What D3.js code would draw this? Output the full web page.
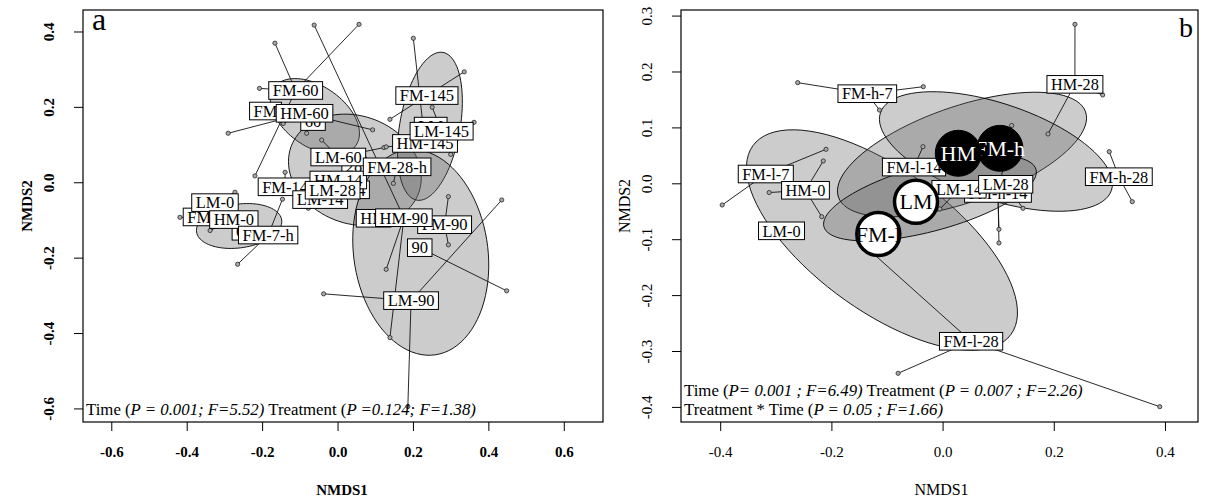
<!DOCTYPE html>
<html>
<head>
<meta charset="utf-8">
<script src="https://cdn.jsdelivr.net/npm/d3@7"></script>
<style>
  body { margin: 0; background: #fff; }
  svg, svg text { font-family: "Liberation Serif", "Tinos", "DejaVu Serif", "Times New Roman", Times, serif; }
  svg { display: block; }
</style>
</head>
<body>
<svg id="chart" width="1205" height="499"></svg>
<script>
// ---------- panel a : NMDS scores ----------
const aXTicks = [-0.6, -0.4, -0.2, 0, 0.2, 0.4, 0.6];
const aYTicks = [-0.6, -0.4, -0.2, 0, 0.2, 0.4];

// group labels, in drawing order (later ones on top)
const aLabels = [
  { id: "FM0", text: "FM", x: -0.367, y: -0.092 },
  { id: "LM-0", text: "LM-0", x: -0.325, y: -0.054 },
  { id: "t0", text: "0", x: -0.258, y: -0.130 },
  { id: "HM-0", text: "HM-0", x: -0.275, y: -0.099 },
  { id: "FM-7-h", text: "FM-7-h", x: -0.184, y: -0.140 },
  { id: "FM-14", text: "FM-14", x: -0.139, y: -0.012 },
  { id: "LM-14", text: "LM-14", x: -0.046, y: -0.046 },
  { id: "t28", text: "28", x: 0.044, y: 0.043 },
  { id: "t14", text: "14", x: 0.052, y: -0.020 },
  { id: "HM-14", text: "HM-14", x: 0.002, y: 0.006 },
  { id: "LM-28", text: "LM-28", x: -0.013, y: -0.021 },
  { id: "LM-60", text: "LM-60", x: 0.002, y: 0.067 },
  { id: "FM-28-h", text: "FM-28-h", x: 0.158, y: 0.041 },
  { id: "FM", text: "FM", x: -0.191, y: 0.189 },
  { id: "t60", text: "60", x: -0.065, y: 0.161 },
  { id: "FM-60", text: "FM-60", x: -0.111, y: 0.2435 },
  { id: "HM-60", text: "HM-60", x: -0.0875, y: 0.183 },
  { id: "FM-145", text: "FM-145", x: 0.237, y: 0.230 },
  { id: "LM", text: "LM", x: 0.247, y: 0.149 },
  { id: "HM-145", text: "HM-145", x: 0.232, y: 0.103 },
  { id: "LM-145", text: "LM-145", x: 0.276, y: 0.1355 },
  { id: "HM", text: "HM", x: 0.0955, y: -0.0955 },
  { id: "FM-90", text: "FM-90", x: 0.284, y: -0.1125 },
  { id: "HM-90", text: "HM-90", x: 0.176, y: -0.094 },
  { id: "t90", text: "90", x: 0.218, y: -0.1735 },
  { id: "LM-90", text: "LM-90", x: 0.195, y: -0.314 }
];

// sample scores, each tied to its group label
const aPoints = [
  { g: "FM-60", x: -0.166, y: 0.369 }, { g: "FM-60", x: 0.057, y: 0.419 },
  { g: "FM-60", x: -0.207, y: 0.249 }, { g: "FM-60", x: -0.219, y: 0.017 },
  { g: "HM-60", x: -0.290, y: 0.130 }, { g: "HM-60", x: 0.093, y: 0.139 },
  { g: "HM-60", x: -0.144, y: 0.156 }, { g: "HM-60", x: -0.082, y: 0.130 },
  { g: "LM-60", x: -0.042, y: 0.112 }, { g: "LM-60", x: 0.123, y: 0.092 },
  { g: "FM-14", x: -0.139, y: 0.0265 },
  { g: "LM-14", x: -0.0775, y: -0.069 },
  { g: "LM-0", x: -0.272, y: -0.0265 },
  { g: "HM-0", x: -0.418, y: -0.093 }, { g: "HM-0", x: -0.338, y: -0.128 },
  { g: "FM-7-h", x: -0.146, y: -0.045 }, { g: "FM-7-h", x: -0.265, y: -0.2175 },
  { g: "FM-28-h", x: 0.148, y: -0.003 },
  { g: "HM-90", x: -0.062, y: 0.417 }, { g: "HM-90", x: 0.139, y: -0.412 },
  { g: "HM-90", x: 0.129, y: -0.231 }, { g: "HM-90", x: 0.056, y: -0.089 },
  { g: "t90", x: 0.4485, y: -0.288 },
  { g: "FM-90", x: 0.294, y: -0.038 }, { g: "FM-90", x: 0.294, y: -0.166 },
  { g: "LM-90", x: -0.037, y: -0.296 }, { g: "LM-90", x: 0.1865, y: -0.595 },
  { g: "LM-90", x: 0.4355, y: -0.047 },
  { g: "HM-145", x: 0.201, y: 0.382 }, { g: "HM-145", x: 0.129, y: 0.094 },
  { g: "FM-145", x: 0.336, y: 0.293 }, { g: "FM-145", x: 0.139, y: 0.167 },
  { g: "LM-145", x: 0.362, y: 0.159 }, { g: "LM-145", x: 0.300, y: 0.074 },
  { g: "LM-145", x: 0.251, y: 0.199 }
];

// confidence ellipses: centre, semi axes, angle (deg) in score units
const aEllipses = [
  { x: -0.261, y: -0.116, a: 0.114, b: 0.058, angle: 8 },
  { x: -0.060, y: 0.1745, a: 0.133, b: 0.080, angle: -35 },
  { x: 0.046, y: 0.033, a: 0.180, b: 0.143, angle: -20 },
  { x: 0.245, y: 0.1485, a: 0.199, b: 0.080, angle: 80 },
  { x: 0.2207, y: -0.186, a: 0.2745, b: 0.178, angle: 98 }
];

// ---------- panel b ----------
const bXTicks = [-0.4, -0.2, 0, 0.2, 0.4];
const bYTicks = [-0.4, -0.3, -0.2, -0.1, 0, 0.1, 0.2, 0.3];

const bLabels = [
  { id: "FM-h-7", text: "FM-h-7", x: -0.1354, y: 0.1603 },
  { id: "FM-l-7", text: "FM-l-7", x: -0.318, y: 0.0166 },
  { id: "HM-0", text: "HM-0", x: -0.2466, y: -0.0125 },
  { id: "LM-0", text: "LM-0", x: -0.2897, y: -0.085 },
  { id: "FM-l-14", text: "FM-l-14", x: -0.0514, y: 0.029 },
  { id: "HM-28", text: "HM-28", x: 0.238, y: 0.177 },
  { id: "FM-h-28", text: "FM-h-28", x: 0.317, y: 0.0118 },
  { id: "FM-h-14", text: "FM-h-14", x: 0.0996, y: -0.0182 },
  { id: "LM-14", text: "LM-14", x: 0.0295, y: -0.0107 },
  { id: "LM-28", text: "LM-28", x: 0.1135, y: -0.0018 },
  { id: "FM-l-28", text: "FM-l-28", x: 0.0513, y: -0.2826 }
];

const bPoints = [
  { g: "FM-h-7", x: -0.2606, y: 0.180 }, { g: "FM-h-7", x: -0.0347, y: 0.1728 },
  { g: "FM-h-7", x: -0.1135, y: 0.131 },
  { g: "FM-l-7", x: -0.2097, y: 0.0608 }, { g: "FM-l-7", x: -0.3964, y: -0.0388 },
  { g: "HM-0", x: -0.2146, y: 0.0399 }, { g: "HM-0", x: -0.3119, y: -0.0165 },
  { g: "HM-0", x: -0.2174, y: -0.0598 },
  { g: "LM-0", x: -0.2835, y: -0.080 },
  { g: "FM-l-14", x: -0.0353, y: 0.0655 },
  { g: "HM-28", x: 0.2381, y: 0.2844 }, { g: "HM-28", x: 0.288, y: 0.158 },
  { g: "HM-28", x: 0.1896, y: 0.0882 },
  { g: "FM-h-28", x: 0.2998, y: 0.0565 }, { g: "FM-h-28", x: 0.3412, y: -0.0329 },
  { g: "LM-28", x: 0.1446, y: -0.0447 },
  { g: "FM-h-14", x: 0.1014, y: -0.0823 }, { g: "FM-h-14", x: 0.1014, y: -0.1068 },
  { g: "FM-h-14", x: 0.1243, y: 0.1034 },
  { g: "FM-l-28", x: -0.080, y: -0.3399 }, { g: "FM-l-28", x: 0.3906, y: -0.3996 },
  { g: "FM-l-28", x: -0.152, y: -0.1014 },
  { g: "LM-14", x: -0.0047, y: -0.046 }
];

const bEllipses = [
  { x: -0.109, y: -0.1014, a: 0.287, b: 0.126, angle: -36 },
  { x: 0.0349, y: 0.0515, a: 0.235, b: 0.086, angle: 18.9 },
  { x: 0.096, y: 0.0569, a: 0.219, b: 0.086, angle: -18.4 },
  { x: -0.0227, y: -0.0265, a: 0.1975, b: 0.059, angle: 15 }
];

// treatment centroids
const bCentroids = [
  { name: "FM-h", x: 0.1032, y: 0.0626 },
  { name: "HM", x: 0.0282, y: 0.0537 },
  { name: "FM-l", x: -0.1156, y: -0.0907 },
  { name: "LM", x: -0.0478, y: -0.0329 }
];
const centroidStyle = {
  "FM-h": { fill: "#000", text: "#fff", stroke: "#000" },
  "HM": { fill: "#000", text: "#fff", stroke: "#000" },
  "FM-l": { fill: "#fff", text: "#000", stroke: "#000" },
  "LM": { fill: "#fff", text: "#000", stroke: "#000" }
};

const serif = '"Liberation Serif", "Tinos", "DejaVu Serif", "Times New Roman", Times, serif';
const svg = d3.select("#chart").attr("font-family", serif);

function ellipsePoints(e) {
  const t = e.angle * Math.PI / 180;
  return d3.range(90).map(i => {
    const p = 2 * Math.PI * i / 90;
    const u = e.a * Math.cos(p), v = e.b * Math.sin(p);
    return [e.x + u * Math.cos(t) - v * Math.sin(t), e.y + u * Math.sin(t) + v * Math.cos(t)];
  });
}

function drawPanel(cfg) {
  const { box, xDomain, yDomain, bold } = cfg;
  const x = d3.scaleLinear().domain(xDomain).range([box.left, box.right]);
  const y = d3.scaleLinear().domain(yDomain).range([box.bottom, box.top]);
  const g = svg.append("g").attr("font-family", serif);
  const weight = bold ? "bold" : "normal";

  // ellipses
  const line = d3.line().x(d => x(d[0])).y(d => y(d[1])).curve(d3.curveLinearClosed);
  g.append("g").selectAll("path")
    .data(cfg.ellipses)
    .join("path")
    .attr("d", d => line(ellipsePoints(d)))
    .attr("fill", "#666")
    .attr("fill-opacity", 0.333)
    .attr("stroke", "#000")
    .attr("stroke-width", 0.9);

  // spider lines from the group label to each sample
  const byId = new Map(cfg.labels.map(d => [d.id, d]));
  g.append("g").selectAll("line")
    .data(cfg.points)
    .join("line")
    .attr("x1", d => x(byId.get(d.g).x))
    .attr("y1", d => y(byId.get(d.g).y))
    .attr("x2", d => x(d.x))
    .attr("y2", d => y(d.y))
    .attr("stroke", "#111")
    .attr("stroke-width", 0.9);

  g.append("g").selectAll("circle")
    .data(cfg.points)
    .join("circle")
    .attr("cx", d => x(d.x))
    .attr("cy", d => y(d.y))
    .attr("r", 2.1)
    .attr("fill", "#aaa")
    .attr("stroke", "#222")
    .attr("stroke-width", 0.8);

  // labels with white boxes
  const lab = g.append("g").selectAll("g")
    .data(cfg.labels)
    .join("g")
    .attr("transform", d => `translate(${x(d.x)},${y(d.y)})`);
  const rects = lab.append("rect");
  const texts = lab.append("text")
    .attr("text-anchor", "middle")
    .attr("y", 5.8)
    .attr("font-size", cfg.labelSize)
    .text(d => d.text);
  texts.each(function (d) { d.w = this.getComputedTextLength(); });
  rects
    .attr("x", d => -d.w / 2 - 4)
    .attr("y", -8.8)
    .attr("width", d => d.w + 8)
    .attr("height", 17.6)
    .attr("fill", "#fff")
    .attr("stroke", "#000")
    .attr("stroke-width", 1);

  // treatment centroids (panel b only)
  if (cfg.centroids) {
    const c = g.append("g").selectAll("g")
      .data(cfg.centroids)
      .join("g")
      .attr("transform", d => `translate(${x(d.x)},${y(d.y)})`);
    c.append("circle")
      .attr("r", d => centroidStyle[d.name].fill === "#000" ? 23 : 21.5)
      .attr("fill", d => centroidStyle[d.name].fill)
      .attr("stroke", d => centroidStyle[d.name].stroke)
      .attr("stroke-width", d => centroidStyle[d.name].fill === "#000" ? 1 : 3.5);
    c.append("text")
      .attr("text-anchor", "middle")
      .attr("y", 7.5)
      .attr("font-size", 22)
      .attr("fill", d => centroidStyle[d.name].text)
      .text(d => d.name);
  }

  // axes
  const fmt = d => d.toFixed(1);
  const xAxis = g.append("g")
    .attr("transform", `translate(0,${box.bottom})`)
    .call(d3.axisBottom(x).tickValues(cfg.xTicks).tickFormat(fmt).tickSize(9));
  const yAxis = g.append("g")
    .attr("transform", `translate(${box.left},0)`)
    .call(d3.axisLeft(y).tickValues(cfg.yTicks).tickFormat(fmt).tickSize(9));
  [xAxis, yAxis].forEach(ax => {
    ax.attr("font-family", serif);
    ax.select(".domain").remove();
    ax.selectAll("line").attr("stroke", "#000").attr("stroke-width", 1);
    ax.selectAll("text")
      .attr("font-family", serif)
      .attr("font-size", 15)
      .attr("font-weight", weight)
      .attr("fill", "#000");
  });
  xAxis.selectAll("text").attr("y", 35).attr("dy", 0);
  yAxis.selectAll("text")
    .attr("transform", "rotate(-90)")
    .attr("x", 0)
    .attr("y", -29.5)
    .attr("dy", 0)
    .attr("text-anchor", "middle");

  // frame
  g.append("rect")
    .attr("x", box.left).attr("y", box.top)
    .attr("width", box.right - box.left).attr("height", box.bottom - box.top)
    .attr("fill", "none").attr("stroke", "#000").attr("stroke-width", 1.2);

  // axis titles
  g.append("text")
    .attr("x", (box.left + box.right) / 2 + cfg.xTitleShift)
    .attr("y", 495)
    .attr("text-anchor", "middle")
    .attr("font-size", bold ? 15 : 16)
    .attr("font-weight", weight)
    .text("NMDS1");
  g.append("text")
    .attr("transform", `translate(${box.left - 51},206) rotate(-90)`)
    .attr("text-anchor", "middle")
    .attr("font-size", bold ? 15 : 16)
    .attr("font-weight", weight)
    .text("NMDS2");

  // panel letter
  g.append("text")
    .attr("x", cfg.letterPos[0]).attr("y", cfg.letterPos[1])
    .attr("font-size", cfg.letterSize)
    .text(cfg.letter);

  // statistics
  cfg.stats.forEach((row, i) => {
    const t = g.append("text")
      .attr("x", box.left + 3)
      .attr("y", cfg.statsY[i])
      .attr("font-size", 16.8);
    row.forEach(([s, it]) => t.append("tspan")
      .attr("font-style", it ? "italic" : "normal")
      .text(s));
  });
}

drawPanel({
  box: { left: 83, right: 603, top: 10, bottom: 422 },
  xDomain: [-0.675, 0.704], yDomain: [-0.636, 0.457],
  bold: true, labelSize: 16.5,
  ellipses: aEllipses, labels: aLabels, points: aPoints,
  xTicks: aXTicks, yTicks: aYTicks,
  xTitleShift: -1,
  letter: "a", letterPos: [92, 30], letterSize: 32,
  stats: [[["Time (", false], ["P = 0.001; F=5.52)", true], [" Treatment (", false], ["P =0.124; F=1.38)", true]]],
  statsY: [415]
});

drawPanel({
  box: { left: 681, right: 1198, top: 10, bottom: 422 },
  xDomain: [-0.4705, 0.4594], yDomain: [-0.427, 0.310],
  bold: false, labelSize: 16.3,
  ellipses: bEllipses, labels: bLabels, points: bPoints, centroids: bCentroids,
  xTicks: bXTicks, yTicks: bYTicks,
  xTitleShift: 2,
  letter: "b", letterPos: [1179, 37], letterSize: 28,
  stats: [
    [["Time (", false], ["P= 0.001 ; F=6.49)", true], [" Treatment (", false], ["P = 0.007 ; F=2.26)", true]],
    [["Treatment * Time (", false], ["P = 0.05 ; F=1.66)", true]]
  ],
  statsY: [396, 415]
});
</script>
</body>
</html>
